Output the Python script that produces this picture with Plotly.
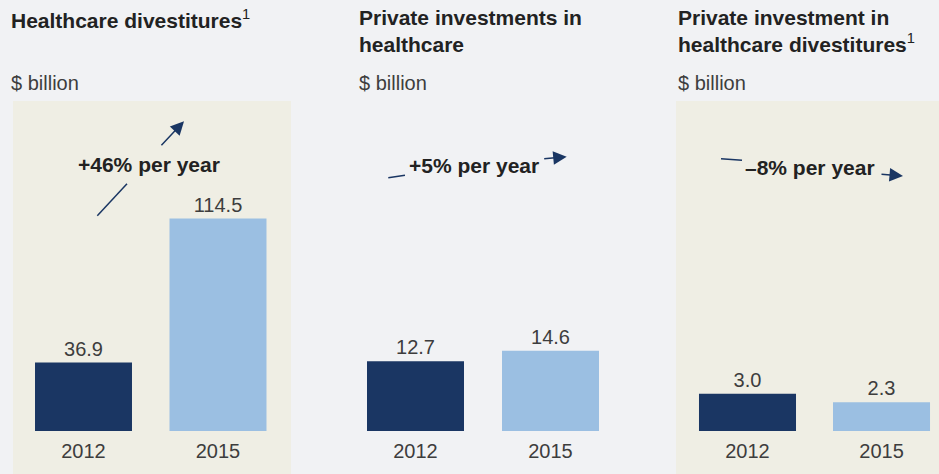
import plotly.graph_objects as go

W, H = 939, 474

# ---- data ----
years = ["2012", "2015"]
divestitures = [36.9, 114.5]
private_investments = [12.7, 14.6]
private_in_divestitures = [3.0, 2.3]

titles = [
    "<b>Healthcare divestitures</b><sup>1</sup>",
    "<b>Private investments in<br>healthcare</b>",
    "<b>Private investment in<br>healthcare divestitures</b><sup>1</sup>",
]
unit_label = "$ billion"
growth_labels = ["+46% per year", "+5% per year", "\u20138% per year"]

# ---- styling ----
NAVY = "#1a3663"
LIGHT = "#9bbfe2"
PAGE = "#f1f2f4"
BEIGE = "#efeee4"
TXT = "#222222"
SUB = "#3d3d3d"
FONT = "Helvetica Neue, Liberation Sans, Arial, sans-serif"

def px_x(v):
    return v / W

def px_y(v):
    return 1 - v / H

series = [divestitures, private_investments, private_in_divestitures]
# horizontal placement of each panel (pixel domains) and category ranges
x_domains = [(16.25, 285.25), (348, 618), (680.5, 939)]
x_ranges = [(-0.5, 1.5), (-0.5, 1.5), (-0.5, 1.429)]
y_maxes = [177.9, 60.1, 26.5]
y_dom = (px_y(431), px_y(101))
bar_widths = [0.721, 0.7185, 0.724]

fig = go.Figure()
for i, vals in enumerate(series):
    sx = "" if i == 0 else str(i + 1)
    fig.add_trace(go.Bar(
        x=years, y=vals,
        xaxis="x" + sx, yaxis="y" + sx,
        marker=dict(color=[NAVY, LIGHT], line=dict(width=0)),
        width=bar_widths[i],
        text=[f"{v:.1f}" for v in vals],
        textposition="outside",
        textfont=dict(size=20, color=SUB, family=FONT),
        cliponaxis=False,
        showlegend=False,
        hoverinfo="skip",
    ))
    xd = x_domains[i]
    fig.layout["xaxis" + sx] = dict(
        domain=[px_x(xd[0]), px_x(xd[1])],
        range=list(x_ranges[i]),
        type="category",
        anchor="y" + sx,
        showgrid=False, zeroline=False, showline=False, ticks="",
        tickfont=dict(size=20, color=SUB, family=FONT),
        ticklabelstandoff=6,
        fixedrange=True,
    )
    fig.layout["yaxis" + sx] = dict(
        domain=list(y_dom),
        range=[0, y_maxes[i]],
        anchor="x" + sx,
        visible=False,
        fixedrange=True,
    )

shapes = []
# shaded panel backgrounds
for x0, x1 in [(13, 291), (676, 939)]:
    shapes.append(dict(type="rect", xref="paper", yref="paper",
                       x0=px_x(x0), x1=px_x(x1), y0=0, y1=px_y(101),
                       fillcolor=BEIGE, line=dict(width=0), layer="below"))

# tails of the growth arrows
for (xa, ya), (xb, yb) in [((97.3, 215.7), (127, 183.7)),
                           ((388.3, 177.7), (405, 175.3)),
                           ((721, 158.7), (742, 160.3))]:
    shapes.append(dict(type="line", xref="paper", yref="paper",
                       x0=px_x(xa), y0=px_y(ya), x1=px_x(xb), y1=px_y(yb),
                       line=dict(color=NAVY, width=1.5)))

annotations = []
title_x = [8.5, 356.5, 675.5]
for i in range(3):
    annotations.append(dict(
        text=titles[i], xref="paper", yref="paper",
        x=px_x(title_x[i]), y=px_y(4), xanchor="left", yanchor="top",
        align="left", showarrow=False,
        font=dict(size=21, color=TXT, family=FONT)))
    annotations.append(dict(
        text=unit_label, xref="paper", yref="paper",
        x=px_x(title_x[i] + 0.5), y=px_y(70), xanchor="left", yanchor="top",
        align="left", showarrow=False,
        font=dict(size=20, color=SUB, family=FONT)))

label_pos = [(148.5, 164), (474, 165), (810, 167)]
for (lx, ly), txt in zip(label_pos, growth_labels):
    annotations.append(dict(
        text="<b>" + txt + "</b>", xref="paper", yref="paper",
        x=px_x(lx), y=px_y(ly), xanchor="center", yanchor="middle",
        showarrow=False, font=dict(size=21, color=TXT, family=FONT)))

# arrow heads: (tail, head) in pixels
for (tx, ty), (hx, hy) in [((160, 146.7), (184, 121.3)),
                           ((542.7, 159), (566.7, 156.7)),
                           ((880, 174), (903, 176))]:
    annotations.append(dict(
        text="", xref="paper", yref="paper",
        x=px_x(hx), y=px_y(hy), ax=tx - hx, ay=ty - hy,
        showarrow=True, arrowhead=2, arrowsize=1.8, arrowwidth=1.5,
        arrowcolor=NAVY, standoff=0, startstandoff=0))

fig.update_layout(
    width=W, height=H,
    margin=dict(l=0, r=0, t=0, b=0),
    paper_bgcolor=PAGE, plot_bgcolor="rgba(0,0,0,0)",
    font=dict(family=FONT),
    shapes=shapes, annotations=annotations,
    bargap=0.3,
)

fig.write_html("out.html", config={"displayModeBar": False})
